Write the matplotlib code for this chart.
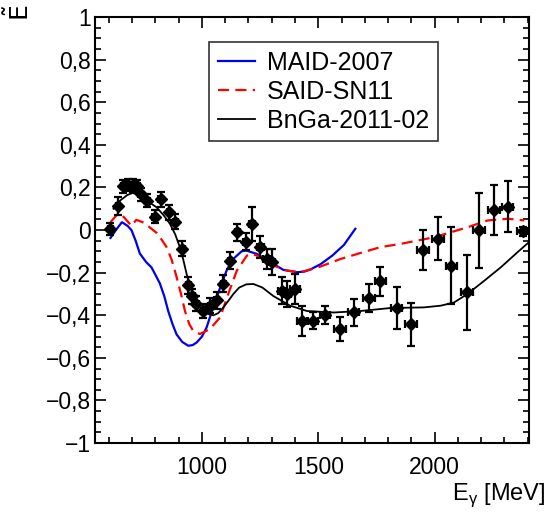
import matplotlib
matplotlib.use("Agg")
import matplotlib.pyplot as plt
from matplotlib.ticker import MultipleLocator, FuncFormatter

plt.rcParams['font.family'] = ['Liberation Sans', 'DejaVu Sans']

# Data points
E_data = [607, 639, 662, 682, 702, 722, 737, 766, 797, 823, 858, 886, 916, 942,
          958, 976, 1006, 1034, 1063, 1092, 1121, 1152, 1188, 1214, 1250, 1279,
          1300, 1343, 1365, 1400, 1430, 1477, 1530, 1592, 1652, 1717, 1767, 1836,
          1897, 1951, 2014, 2072, 2138, 2191, 2256, 2313, 2378]
val_data = [0.005, 0.113, 0.205, 0.212, 0.21, 0.205, 0.168, 0.138, 0.062, 0.145, 0.083,
            0.04, -0.088, -0.26, -0.31, -0.345, -0.38, -0.355, -0.33, -0.252,
            -0.145, -0.01, -0.055, 0.03, -0.08, -0.136, -0.15, -0.285, -0.30,
            -0.277, -0.426, -0.426, -0.40, -0.465, -0.387, -0.32, -0.24, -0.366,
            -0.443, -0.093, -0.041, -0.167, -0.293, -0.002, 0.095, 0.11, -0.006]
yerr_data = [0.03, 0.04, 0.03, 0.03, 0.03, 0.03, 0.03, 0.03, 0.03, 0.035, 0.035,
             0.035, 0.035, 0.04, 0.035, 0.035, 0.035, 0.035, 0.04, 0.04,
             0.04, 0.04, 0.04, 0.08, 0.05, 0.047, 0.06, 0.063, 0.06,
             0.07, 0.07, 0.04, 0.043, 0.055, 0.064, 0.067, 0.068, 0.1,
             0.1, 0.094, 0.1, 0.18, 0.176, 0.176, 0.118, 0.12, 0.02]
xerr_data = [10, 10, 10, 10, 10, 10, 10, 10, 10, 10, 10, 10, 10, 10,
             10, 10, 10, 10, 10, 10, 10, 12, 12, 12, 15, 15,
             15, 18, 18, 20, 20, 22, 22, 25, 25, 25, 25, 25,
             25, 25, 25, 25, 25, 25, 25, 25, 25]

# MAID-2007
E_maid = [607, 630, 656, 680, 697, 715, 733, 760, 783, 800, 819, 838, 855, 873,
          891, 915, 941, 960, 977, 1000, 1020, 1040, 1063, 1085, 1106, 1130,
          1150, 1170, 1190, 1236, 1293, 1350, 1408, 1440, 1466, 1510, 1560,
          1610, 1659]
v_maid = [-0.037, 0.0, 0.037, 0.02, 0.0, -0.05, -0.11, -0.15, -0.175, -0.21,
          -0.25, -0.31, -0.38, -0.44, -0.49, -0.525, -0.543, -0.54, -0.528,
          -0.5, -0.457, -0.39, -0.316, -0.25, -0.19, -0.14, -0.12, -0.1, -0.096,
          -0.112, -0.15, -0.187, -0.198, -0.195, -0.185, -0.16, -0.12, -0.07,
          0.006]

# SAID-SN11
E_said = [607, 625, 643, 665, 697, 718, 750, 790, 805, 830, 848, 870, 891,
          910, 927, 945, 962, 991, 1034, 1078, 1113, 1150, 1193, 1214, 1250,
          1293, 1365, 1422, 1500, 1595, 1680, 1767, 1853, 1997, 2141, 2227,
          2313, 2350, 2385]
v_said = [0.037, 0.06, 0.08, 0.06, 0.02, 0.048, 0.035, 0.0, -0.013, -0.05,
          -0.08, -0.14, -0.22, -0.3, -0.38, -0.44, -0.473, -0.488, -0.465,
          -0.41, -0.30, -0.19, -0.12, -0.112, -0.125, -0.16, -0.19, -0.198,
          -0.175, -0.136, -0.108, -0.08, -0.065, -0.034, 0.013, 0.045, 0.053,
          0.05, 0.045]

# BnGa-2011-02
E_bnga = [620, 650, 680, 704, 730, 760, 805, 835, 862, 885, 905, 920, 934, 948,
          962, 985, 1006, 1030, 1049, 1070, 1092, 1115, 1135, 1160, 1190, 1221,
          1260, 1307, 1379, 1451, 1566, 1681, 1810, 1954, 2026, 2083, 2141,
          2213, 2284, 2356, 2405]
v_bnga = [0.10, 0.14, 0.165, 0.175, 0.16, 0.14, 0.107, 0.07, 0.03, -0.02,
          -0.08, -0.14, -0.206, -0.26, -0.30, -0.35, -0.38, -0.395, -0.40,
          -0.39, -0.363, -0.33, -0.30, -0.27, -0.255, -0.253, -0.27, -0.31,
          -0.355, -0.38, -0.387, -0.38, -0.366, -0.363, -0.355, -0.34, -0.30,
          -0.238, -0.175, -0.104, -0.057]

fig = plt.figure(figsize=(5.55, 5.17), dpi=100)
ax = fig.add_axes([0.171, 0.143, 0.782, 0.824])

ax.plot(E_maid, v_maid, color='#0000ee', lw=1.6, label='MAID-2007', zorder=3)
ax.plot(E_said, v_said, color='#ff0000', lw=1.6, ls=(0, (5, 2.8)), label='SAID-SN11', zorder=3)
ax.plot(E_bnga, v_bnga, color='black', lw=1.3, label='BnGa-2011-02', zorder=3)

ax.errorbar(E_data, val_data, yerr=yerr_data, xerr=xerr_data, fmt='D', color='black',
            ms=6.3, elinewidth=1.6, capsize=3.2, capthick=1.6, zorder=4)

ax.set_xlim(540, 2405)
ax.set_ylim(-1, 1)

ax.xaxis.set_major_locator(MultipleLocator(500))
ax.xaxis.set_minor_locator(MultipleLocator(100))
ax.yaxis.set_major_locator(MultipleLocator(0.2))
ax.yaxis.set_minor_locator(MultipleLocator(0.05))

def yfmt(v, pos):
    if abs(v) < 1e-9:
        return '0'
    s = ('%.1f' % v).rstrip('0').rstrip('.')
    s = s.replace('.', ',').replace('-', '\u2212')
    return s

ax.yaxis.set_major_formatter(FuncFormatter(yfmt))
ax.tick_params(which='both', direction='in', top=True, right=True, labelsize=16.5,
               width=1.2)
ax.tick_params(which='major', length=8)
ax.tick_params(which='minor', length=4)
ax.tick_params(axis='x', pad=9)
ax.tick_params(axis='y', pad=3)
for sp in ax.spines.values():
    sp.set_linewidth(1.5)

fig.text(0.983, 0.015, r'E$_\mathregular{γ}$ [MeV]', ha='right', va='bottom', fontsize=17)
fig.text(0.035, 0.99, r'$\tilde{\mathrm{E}}$', ha='center', va='top', rotation=90, fontsize=18)

leg = ax.legend(loc='upper left', bbox_to_anchor=(0.263, 0.942), fontsize=18,
                frameon=True, fancybox=False, edgecolor='black', handlelength=1.5,
                borderpad=0.35, labelspacing=0.2, handletextpad=0.45, borderaxespad=0)
leg.get_frame().set_linewidth(1.2)

fig.savefig('out.png', dpi=100)
